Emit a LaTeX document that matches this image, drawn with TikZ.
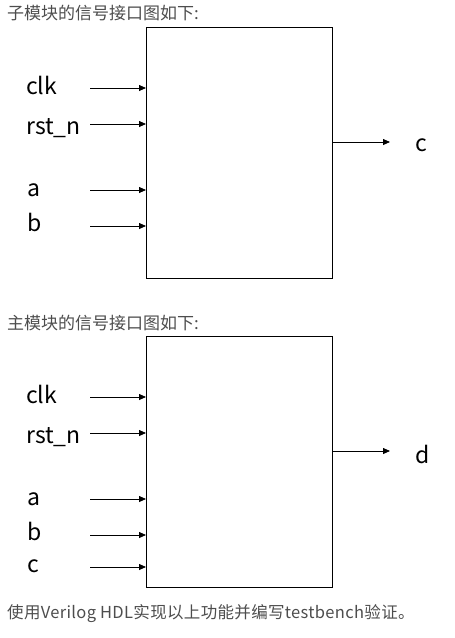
\documentclass[tikz,border=0pt]{standalone}
\usepackage{fontspec}
\setmainfont{Noto Sans CJK SC}
\usetikzlibrary{arrows.meta}
\definecolor{captiongray}{HTML}{4D4D4D}
\tikzset{
  modbox/.style={draw=black, line width=1.2pt},
  sig/.style={-{Triangle[length=7pt,width=6pt]}, line width=0.8pt},
  lbl/.style={font=\fontsize{23}{25}\selectfont, anchor=west, inner sep=0pt},
  caption/.style={font=\fontsize{17}{19}\selectfont, text=captiongray, anchor=west, inner sep=0pt}
}
\begin{document}
\begin{tikzpicture}[x=1pt,y=-1pt]
\useasboundingbox (0,0) rectangle (455,638);
% captions
\node[caption] (cap1) at (7,13) {子模块的信号接口图如下:};
\node[caption] (cap2) at (7,323) {主模块的信号接口图如下:};
\node[caption, font=\fontsize{16.5}{18}\selectfont\addfontfeatures{LetterSpace=2}] (cap3) at (7,614) {使用Verilog HDL实现以上功能并编写testbench验证。};
% sub-module
\node[modbox, minimum width=186pt, minimum height=251pt, anchor=north west, inner sep=0pt] (sub) at (146,27) {};
\coordinate (s1) at (90,88);  \coordinate (e1) at (146,88);
\coordinate (s2) at (90,124); \coordinate (e2) at (146,124);
\coordinate (s3) at (90,190); \coordinate (e3) at (146,190);
\coordinate (s4) at (90,226); \coordinate (e4) at (146,226);
\coordinate (o1) at (332,142); \coordinate (t1) at (390,142);
\draw[sig] (s1) -- (e1);
\draw[sig] (s2) -- (e2);
\draw[sig] (s3) -- (e3);
\draw[sig] (s4) -- (e4);
\draw[sig] (o1) -- (t1);
\node[lbl] (l1) at (26,85) {clk};
\node[lbl] (l2) at (26,128) {rst\_n};
\node[lbl] (l3) at (27,190) {a};
\node[lbl] (l4) at (27,222) {b};
\node[lbl] (lc) at (415,145) {c};
% main module
\node[modbox, minimum width=186pt, minimum height=251pt, anchor=north west, inner sep=0pt] (top) at (146,336) {};
\coordinate (m1) at (90,397);  \coordinate (f1) at (146,397);
\coordinate (m2) at (90,433);  \coordinate (f2) at (146,433);
\coordinate (m3) at (90,499);  \coordinate (f3) at (146,499);
\coordinate (m4) at (90,535);  \coordinate (f4) at (146,535);
\coordinate (m5) at (90,567);  \coordinate (f5) at (146,567);
\coordinate (o2) at (332,451); \coordinate (t2) at (390,451);
\draw[sig] (m1) -- (f1);
\draw[sig] (m2) -- (f2);
\draw[sig] (m3) -- (f3);
\draw[sig] (m4) -- (f4);
\draw[sig] (m5) -- (f5);
\draw[sig] (o2) -- (t2);
\node[lbl] (k1) at (26,394) {clk};
\node[lbl] (k2) at (26,437) {rst\_n};
\node[lbl] (k3) at (27,499) {a};
\node[lbl] (k4) at (27,531) {b};
\node[lbl] (k5) at (27,566) {c};
\node[lbl] (kd) at (415,454) {d};
\end{tikzpicture}
\end{document}
